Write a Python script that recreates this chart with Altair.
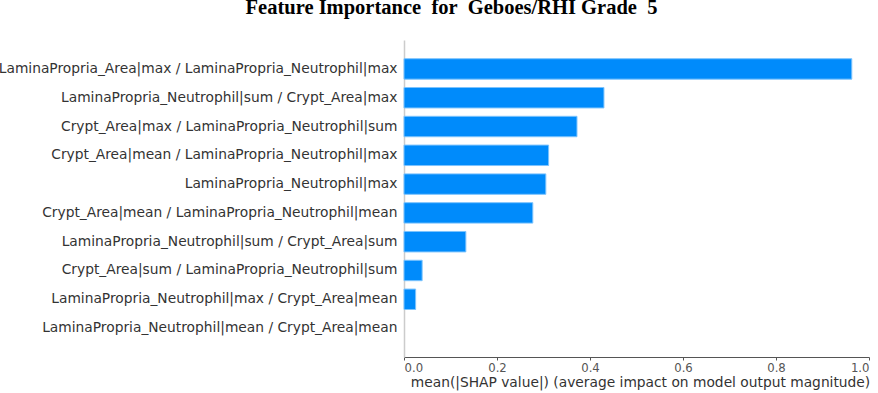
import altair as alt
import pandas as pd

features = [
    "LaminaPropria_Area|max / LaminaPropria_Neutrophil|max",
    "LaminaPropria_Neutrophil|sum / Crypt_Area|max",
    "Crypt_Area|max / LaminaPropria_Neutrophil|sum",
    "Crypt_Area|mean / LaminaPropria_Neutrophil|max",
    "LaminaPropria_Neutrophil|max",
    "Crypt_Area|mean / LaminaPropria_Neutrophil|mean",
    "LaminaPropria_Neutrophil|sum / Crypt_Area|sum",
    "Crypt_Area|sum / LaminaPropria_Neutrophil|sum",
    "LaminaPropria_Neutrophil|max / Crypt_Area|mean",
    "LaminaPropria_Neutrophil|mean / Crypt_Area|mean",
]
importance = [0.963, 0.430, 0.372, 0.311, 0.305, 0.277, 0.133, 0.039, 0.025, 0.0]
x_ticks = [0.0, 0.2, 0.4, 0.6, 0.8, 1.0]
title_text = "Feature Importance\u00a0 for\u00a0 Geboes/RHI Grade\u00a0 5"

df = pd.DataFrame({"feature": features, "value": importance})

chart = alt.Chart(df).mark_bar(
    color="#008bfb", stroke="#7cc3fd", strokeWidth=1
).encode(
    x=alt.X(
        "value:Q",
        scale=alt.Scale(domain=[0, 1.0], nice=False, zero=True),
        axis=alt.Axis(
            values=x_ticks,
            format=".1f",
            title="mean(|SHAP value|) (average impact on model output magnitude)",
            titleFont="DejaVu Sans",
            titleFontSize=13.8,
            titleFontWeight="normal",
            titleColor="#333333",
            titlePadding=2,
            titleX=236,
            labelFont="DejaVu Sans",
            labelFontSize=11.7,
            labelColor="#555555",
            labelPadding=2,
            domainColor="#555555",
            tickColor="#555555",
            tickSize=3,
            grid=False,
        ),
    ),
    y=alt.Y(
        "feature:N",
        sort=features,
        scale=alt.Scale(paddingInner=0.29, paddingOuter=0.65),
        axis=alt.Axis(
            title=None,
            labelFont="DejaVu Sans",
            labelFontSize=13.8,
            labelColor="#333333",
            labelPadding=7,
            labelLimit=500,
            ticks=False,
            domainColor="#cccccc",
            domainWidth=1.5,
            grid=False,
        ),
    ),
    strokeOpacity=alt.condition("datum.value > 0", alt.value(1), alt.value(0)),
).properties(
    width=465,
    height=317,
    background="white",
    title=alt.TitleParams(
        title_text,
        font="Liberation Serif",
        fontSize=20.5,
        fontWeight="bold",
        color="#000000",
        anchor="middle",
        dx=-185,
        offset=22,
    ),
    padding={"left": 404, "top": 40, "right": 9, "bottom": 36},
    autosize=alt.AutoSizeParams(type="none"),
).configure_view(stroke=None)

chart.save("out.html", embed_options={"renderer": "svg", "actions": False})
